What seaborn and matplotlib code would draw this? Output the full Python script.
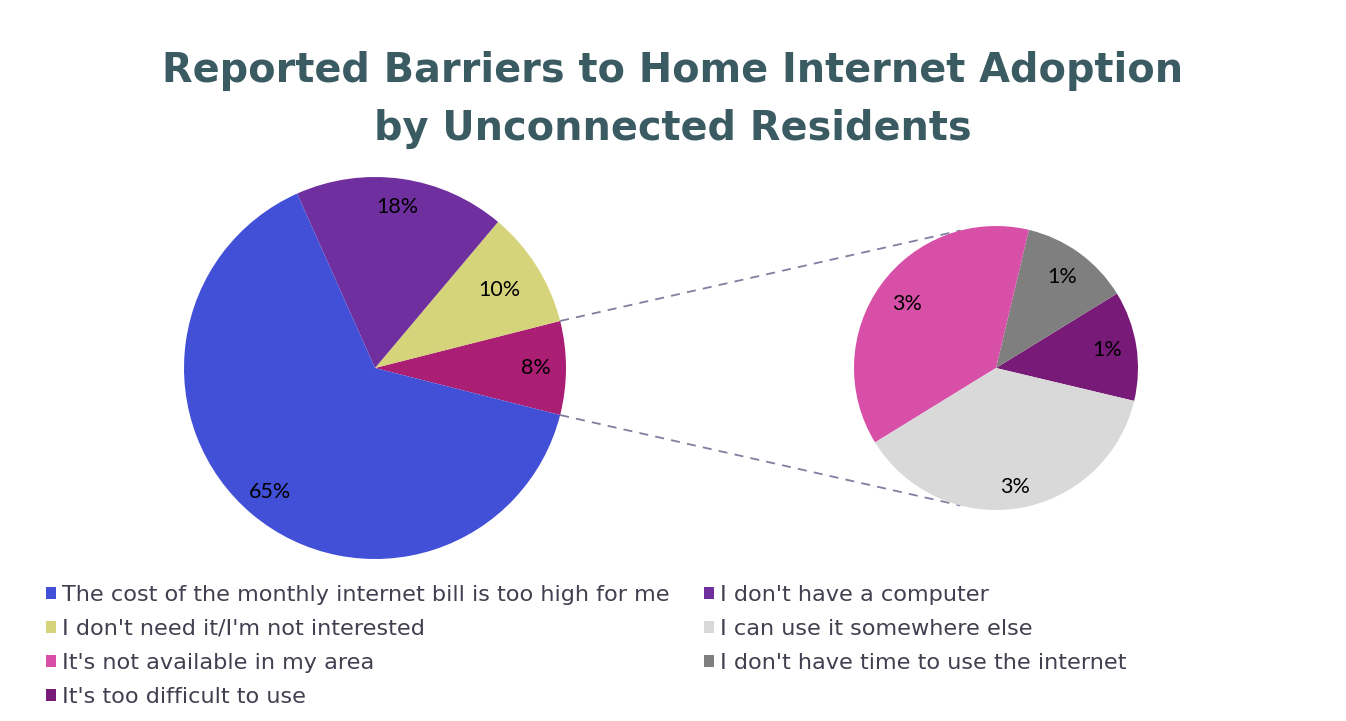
import matplotlib
matplotlib.use("Agg")
import matplotlib.pyplot as plt
import seaborn as sns
import numpy as np
from matplotlib.patches import Patch

# Main pie: the last slice groups the smaller answers shown in the side pie
main_labels = [
    "Other",
    "I don't need it/I'm not interested",
    "I don't have a computer",
    "The cost of the monthly internet bill is too high for me",
]
main_values = [8, 10, 18, 65]

# Side pie: breakdown of the "Other" slice
sub_labels = [
    "It's too difficult to use",
    "I don't have time to use the internet",
    "It's not available in my area",
    "I can use it somewhere else",
]
sub_values = [1, 1, 3, 3]

# Legend order (two columns, filled column by column)
legend_order = [
    "The cost of the monthly internet bill is too high for me",
    "I don't need it/I'm not interested",
    "It's not available in my area",
    "It's too difficult to use",
    "I don't have a computer",
    "I can use it somewhere else",
    "I don't have time to use the internet",
]

palette = {
    "The cost of the monthly internet bill is too high for me": "#4150D6",
    "I don't have a computer": "#6F2F9F",
    "I don't need it/I'm not interested": "#D5D47A",
    "Other": "#AA1E74",
    "It's not available in my area": "#D74FA7",
    "I don't have time to use the internet": "#7F7F7F",
    "It's too difficult to use": "#781A77",
    "I can use it somewhere else": "#D9D9D9",
}

sns.set_theme(style="white")
plt.rcParams["font.family"] = ["DejaVu Sans"]

W, H = 1346, 721
fig = plt.figure(figsize=(W / 100, H / 100), dpi=100)
ax = fig.add_axes([0, 0, 1, 1])

main_c, main_r = (375, H - 368), 191
sub_c, sub_r = (996, H - 368), 142

main_total = sum(main_values)
main_start = -0.5 * main_values[0] / main_total * 360
wedges_main, _ = ax.pie(
    main_values,
    colors=[palette[l] for l in main_labels],
    startangle=main_start,
    center=main_c,
    radius=main_r,
    counterclock=True,
    wedgeprops=dict(linewidth=0),
)

wedges_sub, _ = ax.pie(
    sub_values,
    colors=[palette[l] for l in sub_labels],
    startangle=-13.4,
    center=sub_c,
    radius=sub_r,
    counterclock=True,
    wedgeprops=dict(linewidth=0),
)

ax.set_xlim(0, W)
ax.set_ylim(0, H)
ax.set_axis_off()

label_font = dict(family=["Lato", "DejaVu Sans"], fontsize=15.5, color="black")


def put_labels(wedges, values, center, radius, fracs):
    for w, v, f in zip(wedges, values, fracs):
        a = np.deg2rad((w.theta1 + w.theta2) / 2)
        x = center[0] + f * radius * np.cos(a)
        y = center[1] + f * radius * np.sin(a)
        ax.text(x, y, f"{v}%", ha="center", va="center", **label_font)


put_labels(wedges_main, main_values, main_c, main_r, [0.84, 0.77, 0.85, 0.85])
put_labels(wedges_sub, sub_values, sub_c, sub_r, [0.79, 0.79, 0.77, 0.85])

# Dashed connectors from the "Other" slice to the side pie
other = wedges_main[0]
for th_main, th_sub in [(other.theta2, 104.5), (other.theta1, -104.5)]:
    a1, a2 = np.deg2rad(th_main), np.deg2rad(th_sub)
    x1 = main_c[0] + main_r * np.cos(a1)
    y1 = main_c[1] + main_r * np.sin(a1)
    x2 = sub_c[0] + sub_r * np.cos(a2)
    y2 = sub_c[1] + sub_r * np.sin(a2)
    ax.plot([x1, x2], [y1, y2], ls=(0, (5, 4)), color="#7F7F9F", lw=1.3, zorder=0)

# Title
title_kw = dict(ha="center", va="baseline", fontsize=28.7, fontweight="bold", color="#3B5B63")
fig.text(0.5, 1 - 82 / H, "Reported Barriers to Home Internet Adoption", **title_kw)
fig.text(0.5, 1 - 140 / H, "by Unconnected Residents", **title_kw)

# Legend
handles = [Patch(facecolor=palette[l], edgecolor="none", label=l) for l in legend_order]
fig.legend(
    handles=handles,
    loc="upper left",
    bbox_to_anchor=(46 / W, 1 - 585 / H),
    ncol=2,
    frameon=False,
    fontsize=16.1,
    handlelength=0.45,
    handleheight=0.45,
    handletextpad=0.27,
    columnspacing=1.55,
    labelspacing=0.62,
    labelcolor="#404050",
    borderpad=0,
    borderaxespad=0,
)

fig.savefig("out.png", dpi=100, facecolor="white")
